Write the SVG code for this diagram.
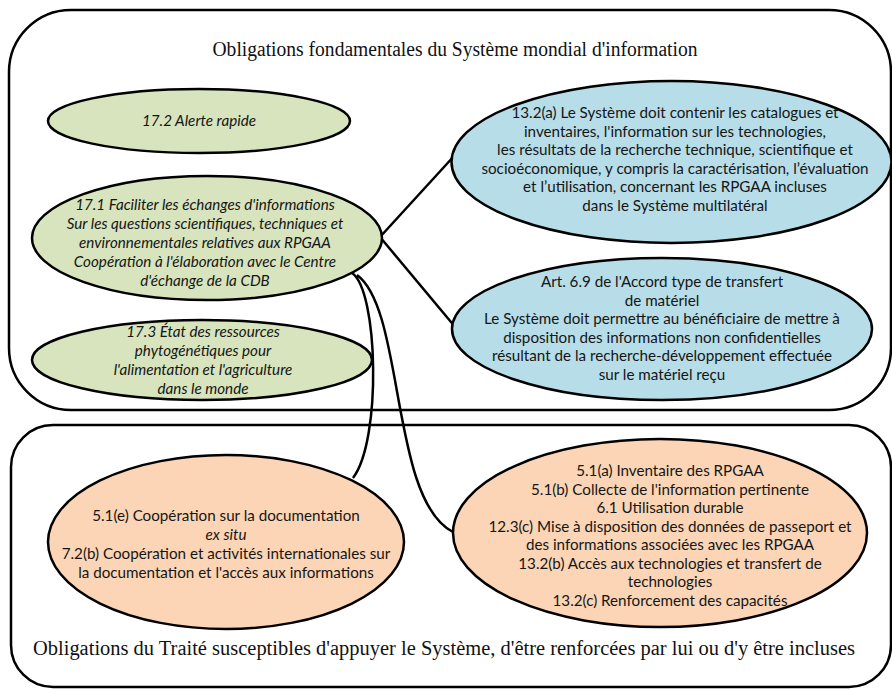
<svg xmlns="http://www.w3.org/2000/svg" width="892" height="689" viewBox="0 0 892 689">
<style>
.box{fill:#fff;stroke:#000;stroke-width:2.5}
.conn{fill:none;stroke:#000;stroke-width:2.5}
.node{stroke:#000;stroke-width:2.5}
.green{fill:#d7e4bd}
.blue{fill:#b7dde8}
.orange{fill:#fbd5b5}
.title{font-family:"Liberation Serif",serif;font-size:20.5px;fill:#111;text-anchor:middle}
.t{font-family:Lato,"Liberation Sans",sans-serif;font-size:15.2px;fill:#151515;text-anchor:middle}
.i{font-style:italic}
</style>
<g id="box-top">
<rect class="box" x="9" y="10" width="882" height="400" rx="62" ry="62"/>
<text class="title" x="455" y="56" textLength="485" lengthAdjust="spacingAndGlyphs">Obligations fondamentales du Système mondial d'information</text>
</g>
<g id="box-bottom">
<rect class="box" x="11" y="425" width="880" height="262" rx="42" ry="42"/>
<text class="title" x="444" y="655" textLength="822" lengthAdjust="spacingAndGlyphs">Obligations du Traité susceptibles d'appuyer le Système, d'être renforcées par lui ou d'y être incluses</text>
</g>
<g id="connectors">
<path class="conn" d="M380,237 L455,155"/>
<path class="conn" d="M380,237 L456,328"/>
<path class="conn" d="M352,273 C378,290 382,440 353,478"/>
<path class="conn" d="M357,275 C405,310 390,500 453,532"/>
</g>
<g id="n17-2">
<ellipse class="node green" cx="199" cy="121" rx="151" ry="32"/>
<text class="t i" x="199" y="126">17.2 Alerte rapide</text>
</g>
<g id="n17-1">
<ellipse class="node green" cx="207" cy="238" rx="175" ry="62"/>
<text class="t i" x="205" y="210">17.1 Faciliter les échanges d'informations<tspan x="205" dy="19">Sur les questions scientifiques, techniques et</tspan><tspan x="205" dy="19">environnementales relatives aux RPGAA</tspan><tspan x="205" dy="19">Coopération à l'élaboration avec le Centre</tspan><tspan x="205" dy="19">d'échange de la CDB</tspan></text>
</g>
<g id="n17-3">
<ellipse class="node green" cx="202" cy="360" rx="170" ry="40"/>
<text class="t i" x="203" y="337">17.3 État des ressources<tspan x="203" dy="19">phytogénétiques pour</tspan><tspan x="203" dy="19">l'alimentation et l'agriculture</tspan><tspan x="203" dy="19">dans le monde</tspan></text>
</g>
<g id="n13-2a">
<ellipse class="node blue" cx="671.5" cy="162" rx="220" ry="81"/>
<text class="t" x="675" y="118">13.2(a) Le Système doit contenir les catalogues et<tspan x="675" dy="18.5">inventaires, l'information sur les technologies,</tspan><tspan x="675" dy="18.5">les résultats de la recherche technique, scientifique et</tspan><tspan x="675" dy="18.5">socioéconomique, y compris la caractérisation, l’évaluation</tspan><tspan x="675" dy="18.5">et l’utilisation, concernant les RPGAA incluses</tspan><tspan x="675" dy="18.5">dans le Système multilatéral</tspan></text>
</g>
<g id="n-art69">
<ellipse class="node blue" cx="662" cy="329" rx="210" ry="71"/>
<text class="t" x="662" y="287">Art. 6.9 de l'Accord type de transfert<tspan x="662" dy="18.5">de matériel</tspan><tspan x="662" dy="18.5">Le Système doit permettre au bénéficiaire de mettre à</tspan><tspan x="662" dy="18.5">disposition des informations non confidentielles</tspan><tspan x="662" dy="18.5">résultant de la recherche-développement effectuée</tspan><tspan x="662" dy="18.5">sur le matériel reçu</tspan></text>
</g>
<g id="n5-1e">
<ellipse class="node orange" cx="226" cy="542" rx="178" ry="87"/>
<text class="t" x="226" y="521">5.1(e) Coopération sur la documentation<tspan x="226" dy="19" class="i">ex situ</tspan><tspan x="226" dy="19">7.2(b) Coopération et activités internationales sur</tspan><tspan x="226" dy="19">la documentation et l'accès aux informations</tspan></text>
</g>
<g id="n5-1a">
<ellipse class="node orange" cx="660" cy="533" rx="207" ry="94"/>
<text class="t" x="670" y="476">5.1(a) Inventaire des RPGAA<tspan x="670" dy="18.5">5.1(b) Collecte de l'information pertinente</tspan><tspan x="670" dy="18.5">6.1 Utilisation durable</tspan><tspan x="670" dy="18.5">12.3(c) Mise à disposition des données de passeport et</tspan><tspan x="670" dy="18.5">des informations associées avec les RPGAA</tspan><tspan x="670" dy="18.5">13.2(b) Accès aux technologies et transfert de</tspan><tspan x="670" dy="18.5">technologies</tspan><tspan x="670" dy="18.5">13.2(c) Renforcement des capacités</tspan></text>
</g>
</svg>
